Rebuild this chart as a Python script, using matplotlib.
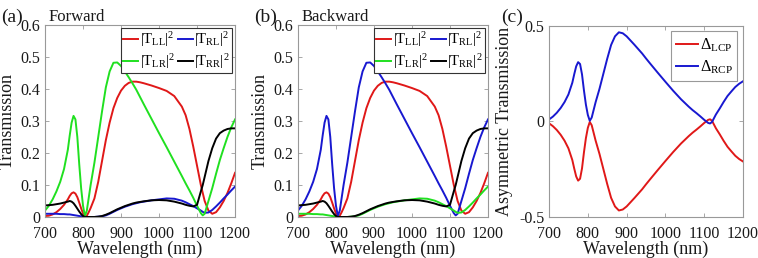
import numpy as np
import matplotlib
matplotlib.use('Agg')
from matplotlib import pyplot as plt
from matplotlib.ticker import FuncFormatter

# wavelength grid (nm)
wl = [700, 710, 720, 730, 740, 750, 760, 765, 770, 775, 780, 785, 790, 795, 800,
      805, 810, 815, 820, 830, 840, 850, 860, 870, 880, 890, 900, 910, 920, 930,
      940, 950, 960, 980, 1000, 1020, 1040, 1060, 1070, 1080, 1090, 1100, 1110,
      1115, 1120, 1130, 1140, 1150, 1160, 1170, 1180, 1190, 1200]

# forward transmission
t_ll = [0.003, 0.004, 0.008, 0.015, 0.025, 0.038, 0.055, 0.066, 0.074, 0.077, 0.073,
        0.062, 0.045, 0.027, 0.011, 0.002, 0.004, 0.015, 0.028, 0.058, 0.110, 0.175,
        0.240, 0.295, 0.340, 0.372, 0.395, 0.410, 0.419, 0.423, 0.423, 0.421, 0.418,
        0.411, 0.403, 0.394, 0.378, 0.345, 0.318, 0.275, 0.220, 0.160, 0.100, 0.075,
        0.050, 0.020, 0.010, 0.015, 0.030, 0.050, 0.075, 0.105, 0.138]
t_rl = [0.010, 0.010, 0.010, 0.010, 0.009, 0.009, 0.008, 0.008, 0.007, 0.006, 0.005,
        0.004, 0.003, 0.002, 0.001, 0.000, 0.000, 0.000, 0.000, 0.000, 0.001, 0.002,
        0.005, 0.010, 0.016, 0.022, 0.027, 0.032, 0.036, 0.040, 0.043, 0.046, 0.048,
        0.052, 0.055, 0.058, 0.057, 0.051, 0.046, 0.040, 0.034, 0.027, 0.020, 0.016,
        0.013, 0.014, 0.022, 0.033, 0.045, 0.058, 0.070, 0.083, 0.095]
t_lr = [0.020, 0.035, 0.055, 0.080, 0.110, 0.150, 0.210, 0.255, 0.295, 0.316, 0.305,
        0.250, 0.165, 0.090, 0.035, 0.003, 0.020, 0.060, 0.100, 0.170, 0.250, 0.330,
        0.405, 0.455, 0.482, 0.483, 0.472, 0.455, 0.437, 0.418, 0.398, 0.375, 0.352,
        0.307, 0.262, 0.218, 0.173, 0.128, 0.105, 0.083, 0.060, 0.035, 0.012, 0.005,
        0.010, 0.050, 0.090, 0.135, 0.178, 0.215, 0.250, 0.280, 0.305]
t_rr = [0.036, 0.037, 0.038, 0.040, 0.042, 0.045, 0.048, 0.050, 0.048, 0.043, 0.035,
        0.026, 0.017, 0.009, 0.003, 0.000, 0.000, 0.000, 0.000, 0.000, 0.001, 0.003,
        0.007, 0.012, 0.018, 0.024, 0.029, 0.034, 0.038, 0.042, 0.045, 0.047, 0.049,
        0.052, 0.053, 0.052, 0.048, 0.042, 0.038, 0.035, 0.033, 0.038, 0.080, 0.100,
        0.125, 0.175, 0.215, 0.245, 0.262, 0.270, 0.275, 0.277, 0.277]

wl = np.array(wl)
t_ll, t_rl, t_lr, t_rr = map(np.array, (t_ll, t_rl, t_lr, t_rr))
# asymmetric transmission
d_lcp = t_rl - t_lr
d_rcp = t_lr - t_rl

plt.rcParams['font.family'] = 'serif'
plt.rcParams['font.serif'] = ['Liberation Serif']
plt.rcParams['mathtext.fontset'] = 'custom'
plt.rcParams['mathtext.rm'] = 'Liberation Serif'
plt.rcParams['mathtext.it'] = 'Liberation Serif:italic'
plt.rcParams['mathtext.bf'] = 'Liberation Serif:bold'

RED = '#e01818'
BLUE = '#1818d0'
GREEN = '#20e020'
BLACK = '#000000'
LW = 1.4
INK = '0.1'

fig = plt.figure(figsize=(7.58, 2.58), dpi=100)


def style_axes(ax):
    for s in ax.spines.values():
        s.set_color('0.6')
        s.set_linewidth(0.8)
    ax.tick_params(direction='in', length=3, width=0.6, color='0.6',
                   top=True, right=True, labelsize=11.5, labelcolor=INK)
    ax.tick_params(axis='x', pad=6.5)
    ax.tick_params(axis='y', pad=3.5)
    ax.set_xlim(700, 1200)
    ax.set_xticks(range(700, 1201, 100))
    ax.yaxis.set_major_formatter(FuncFormatter(lambda v, p: '%g' % round(v, 2)))
    ax.set_xlabel('Wavelength (nm)', fontsize=13, labelpad=-1, color=INK)


lab = {
    'll': r'$|\mathrm{T}_{\mathrm{LL}}|^2$',
    'rl': r'$|\mathrm{T}_{\mathrm{RL}}|^2$',
    'lr': r'$|\mathrm{T}_{\mathrm{LR}}|^2$',
    'rr': r'$|\mathrm{T}_{\mathrm{RR}}|^2$',
}

panels = [
    (0.0594, '(a)', 'Forward', t_rl, t_lr),
    (0.3931, '(b)', 'Backward', t_lr, t_rl),
]
for left, tag, title, blue_y, green_y in panels:
    ax = fig.add_axes([left, 0.159, 0.2507, 0.744])
    l1, = ax.plot(wl, t_ll, color=RED, lw=LW, label=lab['ll'])
    l2, = ax.plot(wl, blue_y, color=BLUE, lw=LW, label=lab['rl'])
    l3, = ax.plot(wl, green_y, color=GREEN, lw=LW, label=lab['lr'])
    l4, = ax.plot(wl, t_rr, color=BLACK, lw=LW, label=lab['rr'])
    ax.set_ylim(0, 0.6)
    ax.set_yticks(np.arange(0, 0.61, 0.1))
    style_axes(ax)
    ax.set_ylabel('Transmission', fontsize=13, labelpad=3, color=INK)
    leg = ax.legend([l1, l3, l2, l4], [lab['ll'], lab['lr'], lab['rl'], lab['rr']],
                    ncol=2, loc='upper right', fontsize=10.5, handlelength=1.05,
                    handletextpad=0.1, columnspacing=0.2, labelspacing=0.2,
                    borderpad=0.15, borderaxespad=0.2, fancybox=False,
                    framealpha=1, edgecolor='0.2')
    leg.get_frame().set_linewidth(0.8)
    fig.text(left - 0.058, 0.915, tag, fontsize=14, color=INK)
    ax.text(0.02, 1.02, title, transform=ax.transAxes, fontsize=12,
            color=INK, va='baseline')

ax = fig.add_axes([0.7243, 0.159, 0.256, 0.741])
ax.plot(wl, d_lcp, color=RED, lw=LW, label=r'$\Delta_{\mathrm{LCP}}$')
ax.plot(wl, d_rcp, color=BLUE, lw=LW, label=r'$\Delta_{\mathrm{RCP}}$')
ax.set_ylim(-0.5, 0.5)
ax.set_yticks([-0.5, 0, 0.5])
style_axes(ax)
ax.set_ylabel('Asymmetric Transmission', fontsize=13, labelpad=4, color=INK)
leg = ax.legend(loc='upper right', fontsize=11.5, handlelength=1.4,
                handletextpad=0.1, labelspacing=0.3, borderpad=0.3,
                borderaxespad=0.35, fancybox=False, framealpha=1, edgecolor='0.6')
leg.get_frame().set_linewidth(0.8)
fig.text(0.661, 0.915, '(c)', fontsize=14, color=INK)

fig.savefig('out.png', dpi=100)
